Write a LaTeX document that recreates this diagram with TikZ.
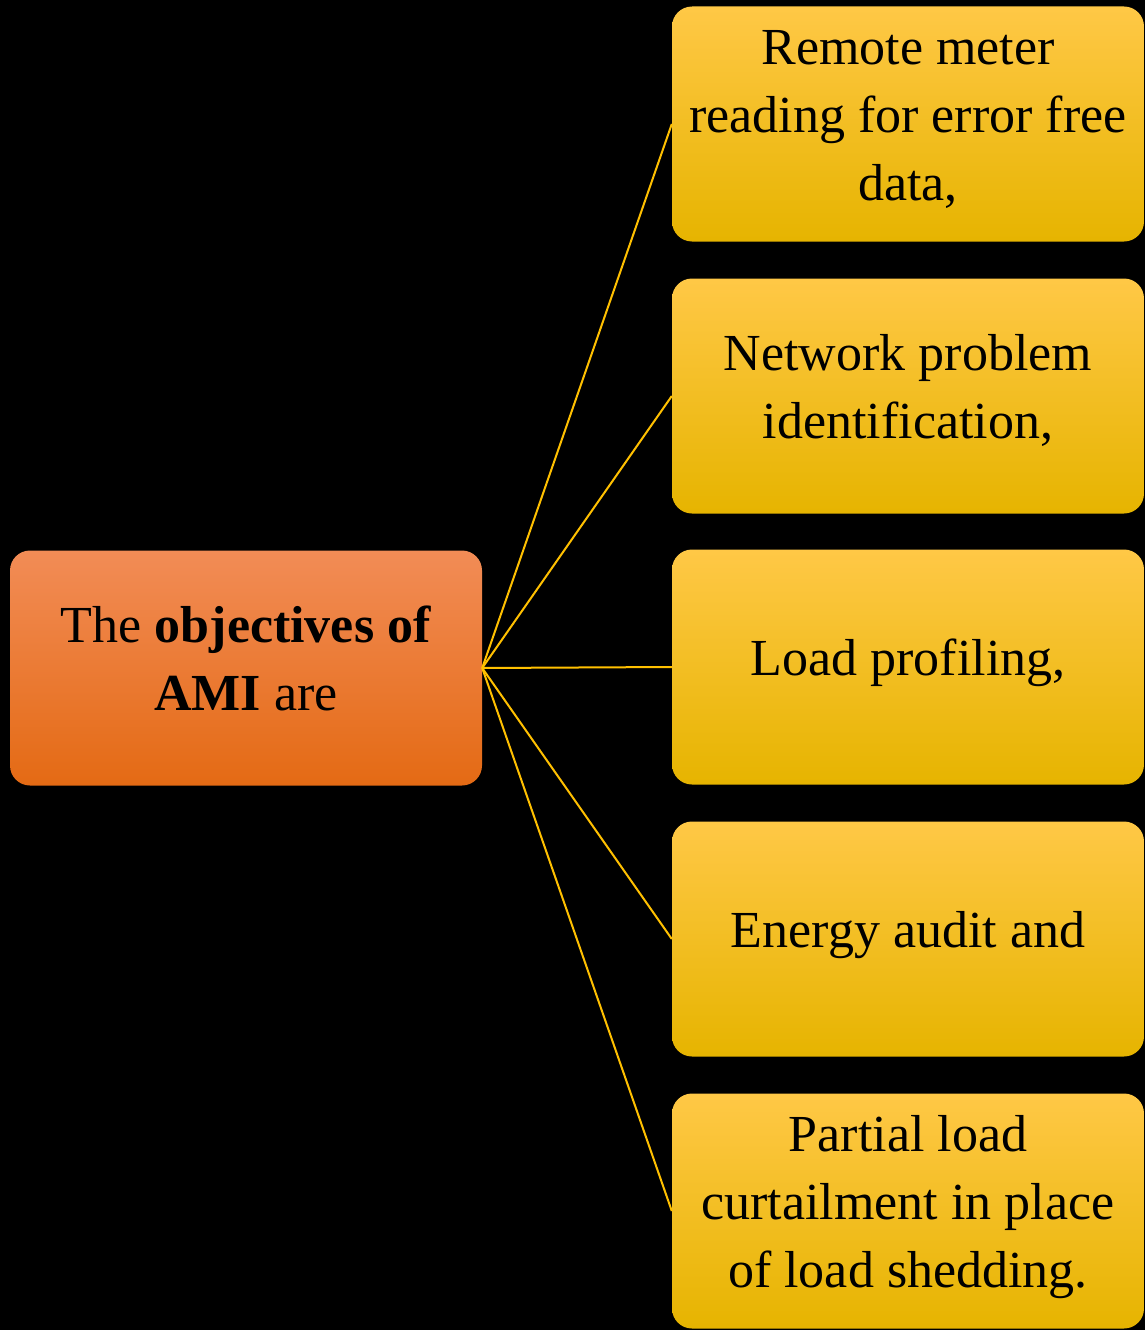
\documentclass[tikz,border=0pt]{standalone}
\usepackage{fontspec}
\setmainfont{Liberation Serif}
\definecolor{ortop}{RGB}{242,140,86}
\definecolor{ormid}{RGB}{240,120,40}
\definecolor{orbot}{RGB}{228,106,20}
\definecolor{yetop}{RGB}{255,200,70}
\definecolor{yemid}{RGB}{255,192,0}
\definecolor{yebot}{RGB}{230,180,0}
\definecolor{link}{RGB}{255,192,0}
\newcommand\ms{\rule[-26pt]{0pt}{68pt}}
\tikzset{
  x=1pt,y=-1pt,
  basebox/.style={rounded corners=20pt, minimum width=472pt, minimum height=235pt,
    align=center, inner sep=0pt, font=\fontsize{52}{68}\selectfont, text=black},
  mainbox/.style={basebox, top color=ortop, middle color=ormid, bottom color=orbot},
  itembox/.style={basebox, top color=yetop, middle color=yemid, bottom color=yebot},
  linkline/.style={draw=link, line width=2pt}
}
\begin{document}
\begin{tikzpicture}
\fill[black] (0,0) rectangle (1145,1330);
\useasboundingbox (0,0) rectangle (1145,1330);
\node[mainbox] (c) at (246,668) {\ms The \textbf{objectives of}\\\ms\textbf{AMI} are};
\node[itembox] (r1) at (908,124) {\ms Remote meter\\\ms reading for error free\\\ms data,};
\node[itembox] (r2) at (908,396) {\ms Network problem\\\ms identification,};
\node[itembox] (r3) at (908,667) {\ms Load profiling,};
\node[itembox] (r4) at (908,939) {\ms Energy audit and};
\node[itembox] (r5) at (908,1211) {\ms Partial load\\\ms curtailment in place\\\ms of load shedding.};
\foreach \r in {r1,r2,r3,r4,r5}
  \draw[linkline] (c.east) -- (\r.west);
\end{tikzpicture}
\end{document}
